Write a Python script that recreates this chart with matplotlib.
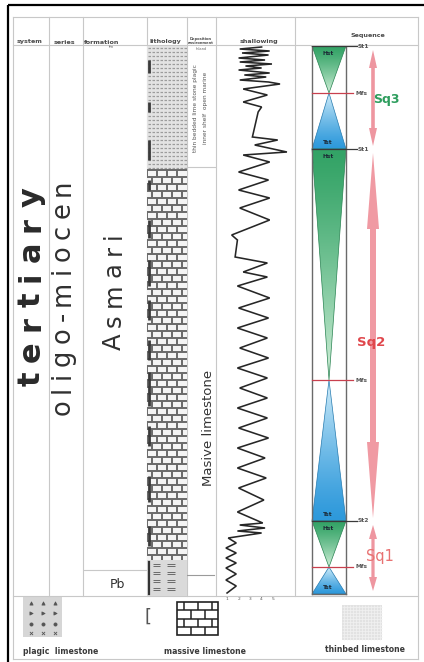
import numpy as np
import matplotlib
matplotlib.use("Agg")
import matplotlib.pyplot as plt
from matplotlib.patches import Rectangle, Polygon
from matplotlib.font_manager import FontProperties
from matplotlib.textpath import text_to_path
from matplotlib.collections import LineCollection

plt.rcParams['font.family'] = ['DejaVu Sans']

# ---------------- data ----------------
header_labels = ["system", "series", "formation", "lithology", "Deposition\nenvironment", "shallowing", "Sequence"]
system_name = "tertiary"
series_name = "oligo-miocen"
formation_names = ["Asmari", "Pb"]
formation_top = [0, 262]
formation_bottom = [262, 275]

lith_types = ["thinbed", "massive", "plagic"]
lith_top = [0, 62, 257]
lith_bottom = [62, 257, 275]
lith_marks_top = [7, 28, 47, 67, 87, 107, 127, 147, 163, 190, 215, 240]
lith_marks_bottom = [13.5, 33, 57, 72, 96, 120, 137, 157, 180, 200, 228, 250]

environment_text = ["thin bedded lime stone plagic", "inner shelf  open marine"]
environment_main = "Masive limestone"

surface_depth = [0, 23.5, 51.5, 167, 237.5, 260.5]
surface_labels = ["St1", "Mfs", "St1", "Mfs", "St2", "Mfs"]
surface_kind = ["sb", "mfs", "sb", "mfs", "sb", "mfs"]
column_base = 274
tract_labels = ["Hst", "Tst", "Hst", "Tst", "Hst", "Tst"]

sequence_names = ["Sq3", "Sq2", "Sq1"]
sequence_top = [0, 51.5, 237.5]
sequence_bottom = [51.5, 237.5, 274]

shallow_depth = [0.5, 1.5, 2.5, 3.5, 4.5, 6, 7, 8, 9, 10, 11, 12, 13.5, 14.5, 15.5, 17, 18, 19,
                 21.5, 24.5, 28, 30.5, 33, 45.5, 47, 49.5, 53, 54.5, 58, 63, 67, 72, 76, 81, 87,
                 94.5, 97, 105.5, 108.5, 113, 115.5, 120, 126, 131, 136, 141, 146, 151, 156,
                 161, 166, 171, 176, 181, 186, 191, 196, 201, 206, 211, 216, 221,
                 227, 233, 238.5, 239.5, 241, 242.5, 243.5, 246,
                 248.5, 251, 253.5, 256, 258.5, 261, 264, 267, 270, 273.5]
shallow_value = [4.0, 2.1, 4.7, 2.3, 4.6, 2.0, 4.3, 2.1, 4.9, 2.6, 4.0, 2.0, 4.7, 2.5, 4.4, 2.1, 4.6, 5.6,
                 2.4, 4.5, 2.4, 4.0, 3.7, 3.2, 5.4, 3.4, 6.2, 2.4, 4.7, 2.0, 4.6, 2.0, 4.7, 2.1, 4.7,
                 1.4, 1.9, 1.7, 4.5, 2.4, 4.5, 1.9, 4.7, 2.0, 4.6, 1.9, 4.5, 2.1, 4.6,
                 1.9, 4.5, 2.1, 4.5, 1.9, 4.5, 2.0, 4.6, 1.9, 4.3, 1.9, 4.4, 2.0,
                 4.2, 1.9, 4.1, 2.1, 4.3, 1.9, 4.0, 1.1,
                 1.8, 0.9, 1.8, 0.9, 1.8, 0.9, 1.8, 0.9, 1.8, 1.0]
scale_ticks = [1, 2, 3, 4, 5]

legend_labels = ["plagic  limestone", "massive limestone", "thinbed limestone"]

# ---------------- layout ----------------
W, H = 424, 662
DEPTH_MAX = 275
GRID = '#c8c8c8'
col_edges = [13, 49, 83, 147, 187, 216, 295, 418]
top_y, head_y, body_top, body_bot, table_bot = 17, 45, 46, 596, 659

fig = plt.figure(figsize=(W / 100, H / 100), dpi=100)
fig.patch.set_facecolor('white')
ax = fig.add_axes([0, 0, 1, 1])
ax.set_xlim(0, W)
ax.set_ylim(H, 0)
ax.axis('off')

# table grid
for x in col_edges[1:-1]:
    ax.plot([x, x], [top_y, body_bot], color=GRID, lw=0.8)
for x in (col_edges[0], col_edges[-1]):
    ax.plot([x, x], [top_y, table_bot], color=GRID, lw=0.8)
for y in (top_y, head_y, body_bot, table_bot):
    ax.plot([13, 418], [y, y], color=GRID, lw=0.8)
ax.add_patch(Rectangle((7.5, 4.5), 440, 680, fill=False, ec='black', lw=1.6))

# headers
head_x = [30, 64, 102, 165, 201, 259, 368]
head_yy = [42, 42, 42, 42, 41, 41, 35]
for lab, x, y in zip(header_labels, head_x, head_yy):
    small = '\n' in lab
    ax.text(x, y, lab, ha='center', va='center', fontsize=2.6 if small else 4.6,
            fontweight='bold', color='#4a4a4a', linespacing=0.9)
ax.text(112, 47.5, "fm", ha='center', va='center', fontsize=2.8, color='#666')
ax.text(201, 48.5, "Inland", ha='center', va='center', fontsize=2.6, color='#666')


def spaced_vertical(x, y_bottom, y_top, s, size, weight='normal', color='#222'):
    prop = FontProperties(family='DejaVu Sans', size=size, weight=weight)
    px = 100 / 72
    widths = []
    for c in s:
        w, h, d = text_to_path.get_text_width_height_descent(c, prop, ismath=False)
        widths.append(w * px)
    gap = (y_bottom - y_top - sum(widths)) / (len(s) - 1)
    pos = y_bottom
    for c, w in zip(s, widths):
        ax.text(x, pos - w / 2, c, rotation=90, ha='center', va='center',
                fontproperties=prop, color=color)
        pos -= w + gap


spaced_vertical(31, 386, 187, system_name, 22, weight='bold', color='#2a2a2a')
spaced_vertical(63, 415, 180, series_name, 18.5, color='#303030')
spaced_vertical(114, 350, 232, formation_names[0], 17.5, color='#303030')


def body_axes(x0, x1, xlim):
    a = fig.add_axes([x0 / W, 1 - body_bot / H, (x1 - x0) / W, (body_bot - body_top) / H])
    a.set_xlim(*xlim)
    a.set_ylim(DEPTH_MAX, 0)
    a.axis('off')
    return a


# formation column (Pb row)
fa = body_axes(83, 147, (83, 147))
for name, t, b in zip(formation_names[1:], formation_top[1:], formation_bottom[1:]):
    fa.plot([83, 147], [t, t], color=GRID, lw=0.8)
    fa.text(117, (t + b) / 2 + 0.5, name, ha='center', va='center', fontsize=9, color='#303030')

# lithology column
la = body_axes(147, 187, (147, 187))
for kind, t, b in zip(lith_types, lith_top, lith_bottom):
    if kind == 'thinbed':
        la.add_patch(Rectangle((147, t), 40, b - t, fc='#e3e3e3', ec='none'))
        segs = [[(148, y), (187, y)] for y in np.arange(t + 1, b, 2.0)]
        la.add_collection(LineCollection(segs, colors='#9c9c9c', lw=0.9, linestyles=[(0, (2.0, 1.2))]))
    elif kind == 'massive':
        la.add_patch(Rectangle((147, t), 40, b - t, fc='#f4f4f4', ec='none'))
        segs = []
        rh = 3.5
        ys = np.arange(t, b, rh)
        for r, y in enumerate(ys):
            segs.append([(147, y), (187, y)])
            off = 0 if r % 2 == 0 else 5
            for xx in np.arange(147 + off, 187, 10):
                segs.append([(xx, y), (xx, min(y + rh, b))])
        la.add_collection(LineCollection(segs, colors='#6a6a6a', lw=1.4))
    else:
        la.add_patch(Rectangle((147, t), 40, b - t, fc='#dadada', ec='none'))
        segs = []
        for y in np.arange(t + 2, b, 4):
            segs += [[(153, y), (160, y)], [(153, y + 1), (160, y + 1)],
                     [(167, y), (175, y)], [(167, y + 1), (175, y + 1)]]
        la.add_collection(LineCollection(segs, colors='#6a6a6a', lw=0.7))
        la.plot([149, 149], [t + 1, b - 1], color='#333', lw=1.6)
for t, b in zip(lith_marks_top, lith_marks_bottom):
    la.plot([148.6, 148.6], [t, b], color='#3a3a3a', lw=2.0, solid_capstyle='butt')

# deposition column
da = body_axes(187, 216, (187, 216))
da.plot([187, 216], [60.5, 60.5], color=GRID, lw=0.8)
da.plot([183, 214], [264.5, 264.5], color='#9a9a9a', lw=0.8)
da.text(196, 31, environment_text[0], rotation=90, ha='center', va='center', fontsize=4.2, color='#555')
da.text(206, 31, environment_text[1], rotation=90, ha='center', va='center', fontsize=4.2, color='#555')
da.text(208, 191, environment_main, rotation=90, ha='center', va='center', fontsize=9.5, color='#333')

# shallowing column
sh = body_axes(216, 295, (0.04, 6.9))
sh.plot(shallow_value, shallow_depth, color='#262626', lw=1.15, solid_joinstyle='miter')
for v in scale_ticks:
    sh.text(v, 276.3, str(v), ha='center', va='center', fontsize=3.2, color='#555')

# sequence column
sa = body_axes(295, 418, (295, 418))
bx0, bx1 = 312, 346
bc = (bx0 + bx1) / 2
green_wide, green_apex = np.array([0.20, 0.64, 0.40]), np.array([0.82, 0.94, 0.85])
blue_wide, blue_apex = np.array([0.18, 0.60, 0.86]), np.array([0.82, 0.93, 0.98])
ends = surface_depth[1:] + [column_base]
for i, (d0, d1) in enumerate(zip(surface_depth, ends)):
    hst = surface_kind[i] == 'sb'
    if hst:
        verts = [(bx0, d0), (bx1, d0), (bc, d1)]
        wide, apex = green_wide, green_apex
    else:
        verts = [(bc, d0), (bx1, d1), (bx0, d1)]
        wide, apex = blue_wide, blue_apex
    t = np.linspace(0, 1, 120)
    frac = t if hst else 1 - t
    frac = frac ** 1.3
    cols = wide[None, :] * (1 - frac[:, None]) + apex[None, :] * frac[:, None]
    im = sa.imshow(cols[:, None, :], extent=(bx0, bx1, d0, d1), origin='lower',
                   aspect='auto', interpolation='bilinear', zorder=2)
    poly = Polygon(verts, closed=True, fc='none', ec=wide * 0.8, lw=0.5, zorder=3)
    sa.add_patch(poly)
    im.set_clip_path(poly)
    ly = d0 + 3.5 if hst else d1 - 3.2
    sa.text(bc - 1, ly, tract_labels[i], ha='center', va='center', fontsize=4.2,
            fontweight='bold', color='#1c2a36', zorder=5)
sa.set_xlim(295, 418)
sa.set_ylim(DEPTH_MAX, 0)
for xx in (bx0, bx1):
    sa.plot([xx, xx], [0, column_base], color='#6a6a6a', lw=1.0, zorder=4)
sa.plot([bx0, bx1], [column_base, column_base], color='#6a6a6a', lw=1.0, zorder=4)

for d, lab, kind in zip(surface_depth, surface_labels, surface_kind):
    if kind == 'sb':
        sa.plot([bx0, 357], [d, d], color='#3a3a3a', lw=0.9, zorder=4)
        sa.text(358, d, lab, ha='left', va='center', fontsize=4.3, fontweight='bold', color='#555', zorder=6)
    else:
        sa.plot([bx0, 353], [d, d], color='#c8404e', lw=0.9, zorder=4)
        sa.text(355, d, lab, ha='left', va='center', fontsize=4.3, fontweight='bold', color='#555', zorder=6)


def double_arrow(a, xc, t, b, hl, hw, sw, color):
    pts = [(xc, t), (xc + hw, t + hl), (xc + sw, t + hl), (xc + sw, b - hl), (xc + hw, b - hl),
           (xc, b), (xc - hw, b - hl), (xc - sw, b - hl), (xc - sw, t + hl), (xc - hw, t + hl)]
    a.add_patch(Polygon(pts, closed=True, fc=color, ec='none', zorder=3))


arrow_geo = {"Sq3": (9, 4, 1.8), "Sq2": (38, 6, 3.0), "Sq1": (7, 4, 1.6)}
arrow_col = {"Sq3": '#ee96a0', "Sq2": '#f09aa3', "Sq1": '#ee96a0'}
for name, t, b in zip(sequence_names, sequence_top, sequence_bottom):
    hl, hw, sw = arrow_geo[name]
    double_arrow(sa, 373, t + 2, b - 1.5, hl, hw, sw, arrow_col[name])

seq_label_pos = {"Sq3": (373, 26.5), "Sq2": (357, 148), "Sq1": (366, 255)}
seq_label_style = {"Sq3": ('#2e9e5e', 'bold', 9), "Sq2": ('#e0474c', 'bold', 9.5), "Sq1": ('#e87272', 'normal', 10.5)}
for name in sequence_names:
    x, y = seq_label_pos[name]
    c, wgt, fs = seq_label_style[name]
    sa.text(x, y, name, ha='left', va='center', fontsize=fs, fontweight=wgt, color=c, zorder=7)

# ---------------- legend row ----------------
ax.add_patch(Rectangle((23, 597), 39, 40, fc='#d6d6d6', ec='none'))
mk = ['^', '>', 'o', 'x']
for r, y in enumerate([603, 613, 624, 633]):
    ax.scatter([31, 43, 55], [y] * 3, marker=mk[r], s=5, color='#555', linewidths=0.6)
ax.text(148, 617, "[", ha='center', va='center', fontsize=13, color='#555')

ax.add_patch(Rectangle((177, 602), 41, 33, fc='white', ec='#222', lw=1.2))
segs = []
rh = 33 / 4
for r in range(4):
    y = 602 + r * rh
    if r > 0:
        segs.append([(177, y), (218, y)])
    off = 0 if r % 2 == 0 else 7
    for xx in np.arange(177 + off + 7, 218, 14):
        segs.append([(xx, y), (xx, y + rh)])
ax.add_collection(LineCollection(segs, colors='#222', lw=1.1))

ax.add_patch(Rectangle((342, 605), 40, 35, fc='#e2e2e2', ec='none'))
gs = [[(342, y), (382, y)] for y in np.arange(607, 640, 3)]
gs += [[(x, 605), (x, 640)] for x in np.arange(344, 382, 3)]
ax.add_collection(LineCollection(gs, colors='#f2f2f2', lw=0.5))

ax.text(23, 651, legend_labels[0], ha='left', va='center', fontsize=5.6, fontweight='bold', color='#3a3a3a')
ax.text(205, 651, legend_labels[1], ha='center', va='center', fontsize=5.6, fontweight='bold', color='#3a3a3a')
ax.text(365, 650, legend_labels[2], ha='center', va='center', fontsize=5.6, fontweight='bold', color='#3a3a3a')

fig.savefig("out.png", dpi=100, facecolor='white')
